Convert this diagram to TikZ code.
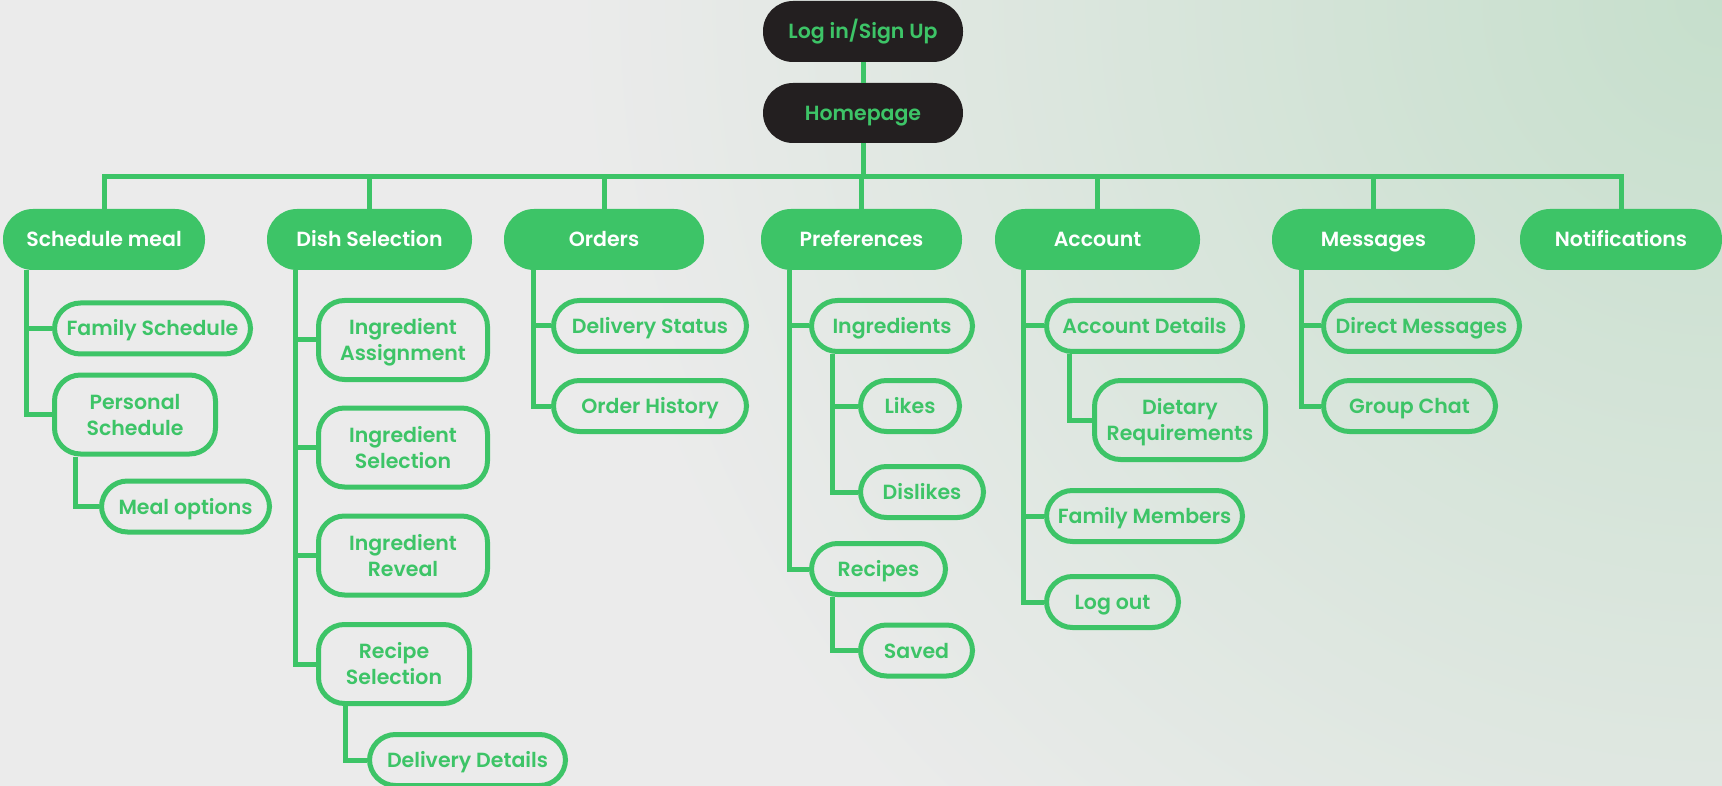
\documentclass[tikz,border=0pt]{standalone}
\usepackage{fontspec}
\setmainfont{Poppins}[BoldFont={Poppins SemiBold}]
\definecolor{leaf}{HTML}{3DC467}
\definecolor{ink}{HTML}{231F20}
\definecolor{paper}{HTML}{EBEBEB}
\definecolor{mint}{HTML}{C6DFCC}
\newcommand{\labelfont}{\fontsize{20.5pt}{26pt}\selectfont\bfseries}
\begin{document}
\begin{tikzpicture}[x=1pt,y=-1pt,
  label base/.style={inner sep=0pt, font=\labelfont, text height=15pt, text depth=0pt},
  dark/.style={label base, fill=ink, text=leaf, rounded corners=30pt, minimum height=61pt},
  head/.style={label base, fill=leaf, text=white, rounded corners=30pt, minimum height=61pt},
  sub/.style={label base, draw=leaf, line width=5pt, text=leaf, rounded corners=26pt,
    minimum height=51pt, align=center},
  tall/.style={minimum height=79pt, text height=41pt},
  wire/.style={draw=leaf, line width=5pt}]

% backdrop with a soft mint glow in the upper right
\fill[paper] (0,0) rectangle (1722,786);
\begin{scope}
  \clip (0,0) rectangle (1722,786);
  \shade[inner color=mint, outer color=paper] (1722,0) circle (1150);
\end{scope}
\useasboundingbox (0,0) rectangle (1722,786);

% entry
\node[dark, minimum width=200pt] (login) at (863,31.5) {Log in/Sign Up};
\node[dark, minimum width=200pt, minimum height=60pt] (home) at (863,113) {Homepage};

% main sections
\node[head, minimum width=202pt] (sched)   at (104,239.5)   {Schedule meal};
\node[head, minimum width=205pt] (dish)    at (369.5,239.5) {Dish Selection};
\node[head, minimum width=200pt] (orders)  at (604,239.5)   {Orders};
\node[head, minimum width=201pt] (prefs)   at (861.5,239.5) {Preferences};
\node[head, minimum width=205pt] (account) at (1097.5,239.5){Account};
\node[head, minimum width=203pt] (msgs)    at (1373.5,239.5){Messages};
\node[head, minimum width=202pt] (notif)   at (1621,239.5)  {Notifications};

% schedule meal
\node[sub, minimum width=196pt] (famsched) at (152.5,328.5) {Family Schedule};
\node[sub, tall, minimum width=161pt] (perssched) at (135,414.5) {Personal\\Schedule};
\node[sub, minimum width=168pt] (mealopt) at (185.5,506.5) {Meal options};

% dish selection
\node[sub, tall, minimum width=169pt] (ingassign) at (403,340)   {Ingredient\\Assignment};
\node[sub, tall, minimum width=169pt] (ingsel)    at (403,447.5) {Ingredient\\Selection};
\node[sub, tall, minimum width=169pt] (ingrev)    at (403,555.5) {Ingredient\\Reveal};
\node[sub, tall, minimum width=151pt] (recsel)    at (394,664)   {Recipe\\Selection};
\node[sub, minimum width=196pt] (delivdet) at (467.5,760) {Delivery Details};

% orders
\node[sub, minimum width=193pt] (delstat) at (650,326) {Delivery Status};
\node[sub, minimum width=193pt] (ordhist) at (650,406) {Order History};

% preferences
\node[sub, minimum width=161pt] (ingr)     at (892,326)   {Ingredients};
\node[sub, minimum width=99pt]  (likes)    at (910,406)   {Likes};
\node[sub, minimum width=123pt] (dislikes) at (922,492)   {Dislikes};
\node[sub, minimum width=134pt] (recipes)  at (878.5,569) {Recipes};
\node[sub, minimum width=112pt] (saved)    at (916.5,650.5) {Saved};

% account
\node[sub, minimum width=196pt] (accdet)  at (1144.5,326) {Account Details};
\node[sub, tall, minimum width=171pt] (dietary) at (1180,420) {Dietary\\Requirements};
\node[sub, minimum width=196pt] (fammem)  at (1144.5,516) {Family Members};
\node[sub, minimum width=132pt] (logout)  at (1112.5,602) {Log out};

% messages
\node[sub, minimum width=196pt] (dm)    at (1421.5,326) {Direct Messages};
\node[sub, minimum width=172pt] (group) at (1409.5,406) {Group Chat};

% top spine
\coordinate (hub) at (863,176.5);
\draw[wire] (login) -- (home);
\draw[wire] (home) -- (hub);
\foreach \n in {sched,dish,orders,prefs,account,msgs,notif}
  \draw[wire] (hub) -| (\n.north);

% branches
\foreach \c in {famsched,perssched}
  \draw[wire] ([xshift=24pt]sched.south west) |- (\c.west);
\draw[wire] ([xshift=23.5pt]perssched.south west) |- (mealopt.west);
\foreach \c in {ingassign,ingsel,ingrev,recsel}
  \draw[wire] ([xshift=29pt]dish.south west) |- (\c.west);
\draw[wire] ([xshift=29.5pt]recsel.south west) |- (delivdet.west);
\foreach \c in {delstat,ordhist}
  \draw[wire] ([xshift=30pt]orders.south west) |- (\c.west);
\foreach \c in {ingr,recipes}
  \draw[wire] ([xshift=29pt]prefs.south west) |- (\c.west);
\foreach \c in {likes,dislikes}
  \draw[wire] ([xshift=23.5pt]ingr.south west) |- (\c.west);
\draw[wire] ([xshift=23.5pt]recipes.south west) |- (saved.west);
\foreach \c in {accdet,fammem,logout}
  \draw[wire] ([xshift=29pt]account.south west) |- (\c.west);
\draw[wire] ([xshift=25.5pt]accdet.south west) |- (dietary.west);
\foreach \c in {dm,group}
  \draw[wire] ([xshift=30pt]msgs.south west) |- (\c.west);
\end{tikzpicture}
\end{document}
